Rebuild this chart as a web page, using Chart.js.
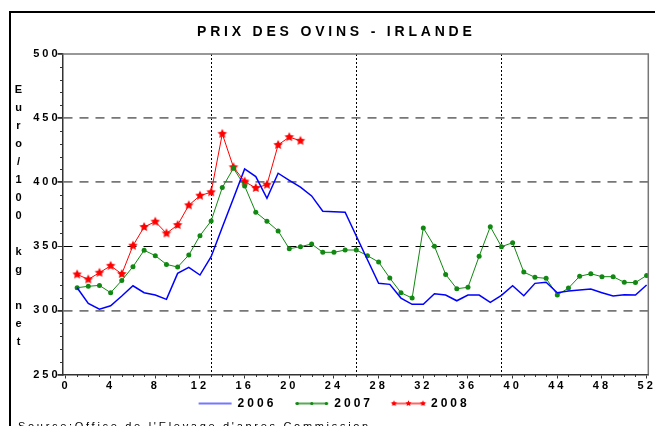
<!DOCTYPE html>
<html>
<head>
<meta charset="utf-8" />
<style>
    body { margin: 0; background: #fff; overflow: hidden; }
    #wrap { position: relative; width: 655px; height: 426px; overflow: hidden; }
    #chart { position: absolute; left: 0; top: 0; }
    .cadre { position: absolute; left: 9px; top: 11px; width: 700px; height: 500px; border: 2px solid #000; }
    .titre { position: absolute; left: 197px; top: 24px; font: bold 14px "Liberation Sans", Arial, sans-serif; letter-spacing: 3.8px; line-height: 14px; white-space: pre; color: #000; }
    .axe-y { position: absolute; left: 8px; top: 80px; width: 21px; text-align: center; font: bold 11px "Liberation Sans", Arial, sans-serif; line-height: 18px; color: #000; }
    .source { position: absolute; left: 18px; top: 421px; font: 11px "Liberation Sans", Arial, sans-serif; letter-spacing: 2.7px; line-height: 11px; white-space: pre; color: #000; }
</style>
</head>
<body>
<div id="wrap">
    <canvas id="chart" width="655" height="426"></canvas>
    <div class="cadre"></div>
    <div class="titre">PRIX DES OVINS - IRLANDE</div>
    <div class="axe-y" id="axeY"></div>
    <div class="source">Source:Office de l'Elevage d'apres Commission</div>
</div>

<script src="https://cdn.jsdelivr.net/npm/chart.js"></script>
<script type="text/javascript">
    // semaines (axe x)
    var semaines = [1, 2, 3, 4, 5, 6, 7, 8, 9, 10, 11, 12, 13, 14, 15, 16, 17, 18, 19, 20,
        21, 22, 23, 24, 25, 26, 27, 28, 29, 30, 31, 32, 33, 34, 35, 36, 37, 38, 39, 40,
        41, 42, 43, 44, 45, 46, 47, 48, 49, 50, 51, 52];

    // prix en euro / 100 kg net
    var prix2006 = [317.7, 305.5, 301, 303.6, 311.2, 319.2, 313.8, 312, 308.6, 328.9,
        333.6, 327.6, 341.9, 364.8, 387.5, 410.4, 404.4, 387.5, 407, 401.5,
        396.1, 389.3, 377.3, 377, 376.6, 358, 339.5, 321.1, 320.3, 309.6,
        304.7, 304.7, 313, 312, 307.5, 312, 312, 306.3, 311.7, 319.2,
        311.4, 321.1, 321.9, 313.8, 315.1, 315.9, 316.6, 313.8, 311.2, 312.2,
        312, 319.8];
    var prix2007 = [317.7, 318.8, 319.5, 313.8, 323.4, 334.1, 346.9, 342.7, 335.9, 333.8,
        343.2, 358.3, 369.8, 395.8, 410.9, 397.1, 376.6, 369.5, 362, 348.1,
        349.7, 351.8, 345.3, 345.3, 347.1, 347.1, 342.7, 337.7, 325.2, 313.8,
        309.6, 364.3, 350, 328.1, 316.9, 318, 342.2, 365.3, 349.7, 352.8,
        329.9, 325.8, 325, 312, 317.4, 326.6, 328.6, 326.3, 326.3, 321.9,
        321.7, 327.3];
    var prix2008 = [328.1, 324.2, 329.4, 334.8, 328.4, 350.5, 365.1, 369.2, 360.1, 366.6,
        382, 389.5, 392.2, 437.7, 411.7, 400.5, 395.5, 398.1, 429.1, 435.2,
        432.3];

    var annees = ['2006', '2007', '2008'];
    var lignesVerticales = [13, 26, 39];
    var titreAxeY = ['E', 'u', 'r', 'o', '/', '1', '0', '0', '', 'k', 'g', '', 'n', 'e', 't'];

    // couleurs claires des traits de la legende
    var couleursLegende = ['rgba(60,60,255,0.7)', 'rgba(17,136,17,0.7)', 'rgba(255,0,0,0.6)'];

    // titre vertical lettre par lettre
    var axeY = document.getElementById('axeY');
    titreAxeY.forEach(function (c) {
        var d = document.createElement('div');
        d.innerHTML = c === '' ? '&nbsp;' : c;
        axeY.appendChild(d);
    });

    // etoile pleine pour 2008
    function etoile(r, couleur) {
        var c = document.createElement('canvas');
        var s = Math.ceil(r * 2) + 2;
        c.width = s; c.height = s;
        var g = c.getContext('2d');
        g.fillStyle = couleur;
        g.beginPath();
        for (var i = 0; i < 10; i++) {
            var rr = i % 2 === 0 ? r : r * 0.5;
            var a = -Math.PI / 2 + i * Math.PI / 5;
            g.lineTo(s / 2 + rr * Math.cos(a), s / 2 + rr * Math.sin(a));
        }
        g.closePath();
        g.fill();
        return c;
    }
    var grandeEtoile = etoile(5, '#ff0000');
    var petiteEtoile = etoile(3.2, '#ff0000');

    function points(valeurs) {
        return valeurs.map(function (v, i) { return { x: semaines[i], y: v }; });
    }

    var police = '"Liberation Sans", Arial, sans-serif';
    Chart.defaults.font.family = police;
    Chart.defaults.color = '#000';

    // espacement des lettres comme sur l'original
    var espacement = {
        id: 'espacement',
        beforeUpdate: function (chart) { chart.ctx.letterSpacing = '3px'; },
        beforeDraw: function (chart) { chart.ctx.letterSpacing = '3px'; }
    };

    // petites graduations, cadre haut/droite, marqueurs de la legende
    var decor = {
        id: 'decor',
        afterDraw: function (chart) {
            var ctx = chart.ctx, a = chart.chartArea;
            var sx = chart.scales.x, sy = chart.scales.y;
            ctx.save();
            ctx.strokeStyle = '#333';
            ctx.lineWidth = 1;
            ctx.beginPath();
            for (var v = 260; v < 500; v += 10) {
                if (v % 50 === 0) continue;
                var py = Math.round(sy.getPixelForValue(v)) + 0.5;
                ctx.moveTo(a.left - 2.5, py); ctx.lineTo(a.left, py);
            }
            for (var w = 1; w < 52; w++) {
                if (w % 4 === 0) continue;
                var px = Math.round(sx.getPixelForValue(w)) + 0.5;
                ctx.moveTo(px, a.bottom); ctx.lineTo(px, a.bottom + 2.5);
            }
            ctx.stroke();

            ctx.strokeStyle = '#777';
            ctx.lineWidth = 1.5;
            ctx.beginPath();
            ctx.moveTo(a.left, a.top); ctx.lineTo(a.right, a.top); ctx.lineTo(a.right, a.bottom);
            ctx.stroke();

            var boites = chart.legend.legendHitBoxes;
            [1, 2].forEach(function (k) {
                var b = boites[k];
                var cy = b.top + 6;
                [b.left + 2, b.left + 16.5, b.left + 31].forEach(function (cx) {
                    if (k === 1) {
                        ctx.fillStyle = '#118811';
                        ctx.beginPath();
                        ctx.arc(cx, cy, 1.6, 0, Math.PI * 2);
                        ctx.fill();
                    } else {
                        ctx.drawImage(petiteEtoile, cx - petiteEtoile.width / 2, cy - petiteEtoile.height / 2);
                    }
                });
            });
            ctx.restore();
        }
    };

    new Chart(document.getElementById('chart'), {
        type: 'line',
        data: {
            datasets: [{
                label: annees[0],
                data: points(prix2006),
                borderColor: '#0000ff',
                backgroundColor: '#0000ff',
                borderWidth: 1.5,
                pointRadius: 0
            }, {
                label: annees[1],
                data: points(prix2007),
                borderColor: '#118811',
                backgroundColor: '#118811',
                borderWidth: 1,
                pointRadius: 2.5,
                pointBorderWidth: 0,
                pointBackgroundColor: '#118811'
            }, {
                label: annees[2],
                data: points(prix2008),
                borderColor: '#ff0000',
                backgroundColor: '#ff0000',
                borderWidth: 1,
                pointStyle: grandeEtoile
            }]
        },
        options: {
            responsive: false,
            animation: false,
            events: [],
            layout: { padding: { left: 20, right: 6.7, top: 54, bottom: 6.5 } },
            plugins: {
                tooltip: { enabled: false },
                title: { display: false },
                legend: {
                    position: 'bottom',
                    labels: {
                        usePointStyle: true,
                        pointStyle: 'line',
                        pointStyleWidth: 33,
                        padding: 19,
                        color: '#000',
                        font: { size: 12, weight: 'bold' },
                        generateLabels: function (chart) {
                            var items = Chart.defaults.plugins.legend.labels.generateLabels(chart);
                            items.forEach(function (it, i) {
                                it.strokeStyle = couleursLegende[i];
                                it.fillStyle = couleursLegende[i];
                                it.lineWidth = 2;
                                it.pointStyle = 'line';
                            });
                            return items;
                        }
                    }
                }
            },
            scales: {
                x: {
                    type: 'linear',
                    min: -0.31,
                    max: 52.15,
                    afterFit: function (s) {
                        s.height = 4; s.paddingLeft = 0; s.paddingRight = 0;
                        // les etiquettes debordent sous la legende : pas de decoupage
                        s._computeLabelArea = function () { return null; };
                    },
                    ticks: {
                        stepSize: 1,
                        includeBounds: false,
                        autoSkip: false,
                        maxRotation: 0,
                        padding: 1,
                        font: { size: 11, weight: 'bold' },
                        callback: function (v) { return v % 4 === 0 ? String(v) : ''; }
                    },
                    grid: {
                        lineWidth: 1,
                        tickLength: 4,
                        color: function (c) { return lignesVerticales.indexOf(c.tick && c.tick.value) >= 0 ? '#000' : 'rgba(0,0,0,0)'; },
                        tickColor: function (c) { return c.tick && c.tick.value % 4 === 0 ? '#333' : 'rgba(0,0,0,0)'; }
                    },
                    border: { color: '#333', width: 1.5, dash: [2, 2] }
                },
                y: {
                    min: 250,
                    max: 500,
                    afterFit: function (s) { s.width = 42.5; s.paddingTop = 0; s.paddingBottom = 0; },
                    ticks: {
                        stepSize: 50,
                        padding: -3,
                        font: { size: 11, weight: 'bold' }
                    },
                    grid: {
                        tickLength: 5,
                        tickColor: '#333',
                        color: function (c) {
                            var v = c.tick && c.tick.value;
                            if (v === 250 || v === 500) return 'rgba(0,0,0,0)';
                            return v === 350 ? '#000' : '#777';
                        },
                        lineWidth: function (c) { return c.tick && c.tick.value === 350 ? 1 : 1.8; }
                    },
                    border: { color: '#333', width: 1.5, dash: [9, 7] }
                }
            }
        },
        plugins: [espacement, decor]
    });
</script>
</body>
</html>
